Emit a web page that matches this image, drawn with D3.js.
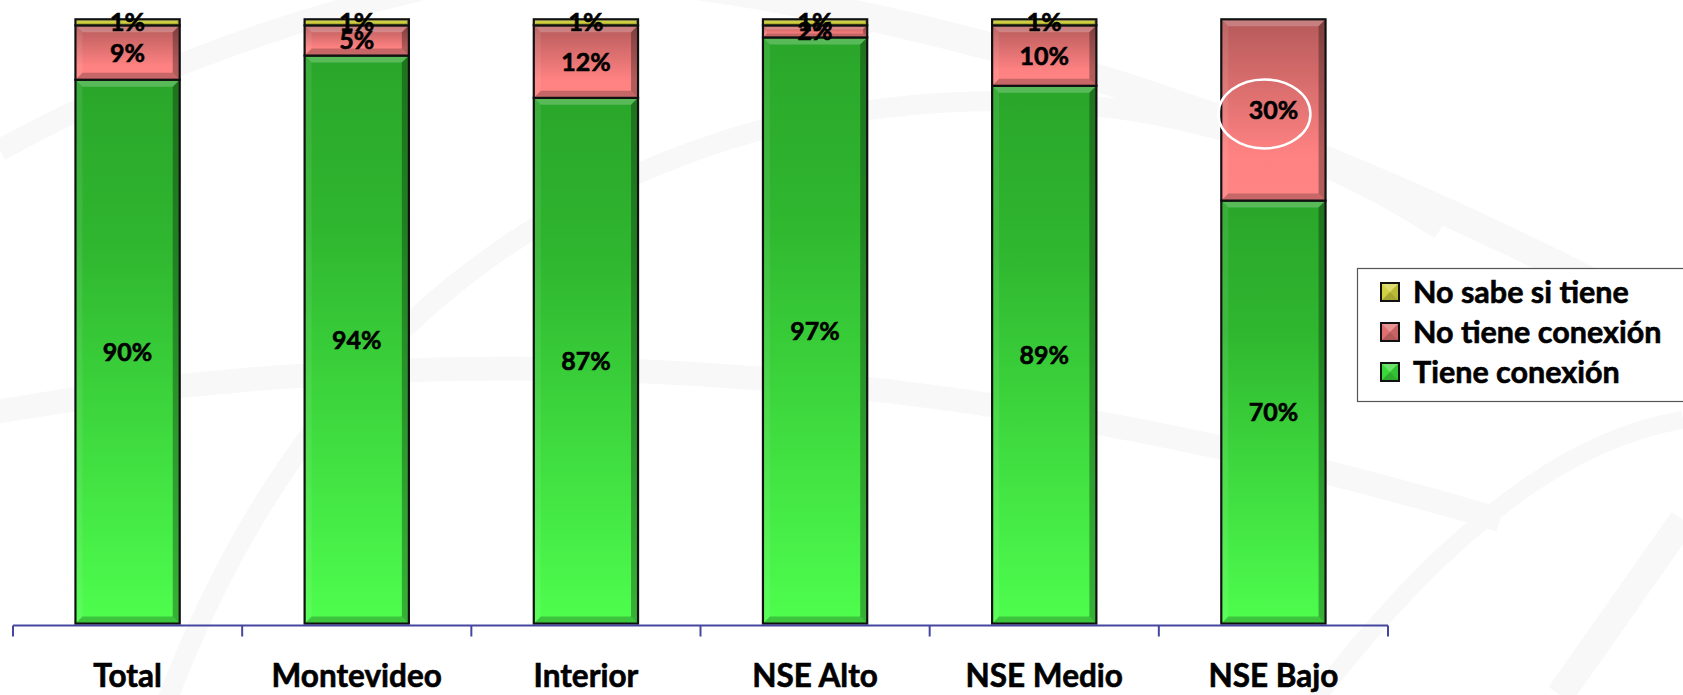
<!DOCTYPE html>
<html>
<head>
<meta charset="utf-8">
<script src="https://cdn.jsdelivr.net/npm/d3@7"></script>
<style>
html,body{margin:0;padding:0;background:#fff;overflow:hidden}
svg{display:block}
</style>
</head>
<body>
<svg id="chart" width="1683" height="695"></svg>
<script>
// ---- data ----
const categories = ["Total","Montevideo","Interior","NSE Alto","NSE Medio","NSE Bajo"];
const tieneConexion   = [90, 94, 87, 97, 89, 70];
const noTieneConexion = [9, 5, 12, 2, 10, 30];
const noSabe          = [1, 1, 1, 1, 1, 0];
const seriesNames = ["Tiene conexión","No tiene conexión","No sabe si tiene"];
const legendOrder = ["No sabe si tiene","No tiene conexión","Tiene conexión"];
const highlighted = {category:"NSE Bajo", series:"No tiene conexión"};

const W = 1683, H = 695;
const svg = d3.select("#chart");
const FONT = "Lato, 'Open Sans', sans-serif";

// ---- background watermark swooshes (very faint) ----
const bg = svg.append("g").attr("fill","none").attr("stroke","#f8f8f8");
bg.append("path").attr("d","M -50 420 Q 700 280 1500 520").attr("stroke-width",24);
bg.append("path").attr("d","M 160 720 Q 330 250 760 130 Q 1150 40 1440 230").attr("stroke-width",20);
bg.append("path").attr("d","M 650 -20 Q 1150 40 1683 330").attr("stroke-width",28);
bg.append("path").attr("d","M 1300 720 Q 1500 450 1683 420").attr("stroke-width",18);
bg.append("path").attr("d","M 0 150 Q 200 40 420 -10").attr("stroke-width",22);
bg.append("path").attr("d","M 1560 695 L 1683 520").attr("stroke-width",28);

// ---- scales ----
const x = d3.scaleBand().domain(categories).range([13, 1388]).paddingInner(0.545).paddingOuter(0.2725);
const y = d3.scaleLinear().domain([0, 100]).range([623.6, 19.3]);

const rows = categories.map((c,i)=>({
  cat:c,
  "Tiene conexión":tieneConexion[i],
  "No tiene conexión":noTieneConexion[i],
  "No sabe si tiene":noSabe[i]
}));
const stack = d3.stack().keys(seriesNames)(rows);

// ---- gradients ----
const defs = svg.append("defs");
const grads = {
  "Tiene conexión":[[0,"#2aa62a"],[0.3,"#2fb62f"],[1,"#4efe4e"]],
  "No tiene conexión":[[0,"#b65a5a"],[0.75,"#ff8282"],[1,"#ff8484"]],
  "No sabe si tiene":[[0,"#c4c43a"],[1,"#d8d840"]]
};
const gid = {};
seriesNames.forEach((s,i)=>{
  const id = "g"+i; gid[s]=id;
  const g = defs.append("linearGradient").attr("id",id).attr("x1",0).attr("y1",0).attr("x2",0).attr("y2",1);
  grads[s].forEach(([o,c])=>g.append("stop").attr("offset",o).attr("stop-color",c));
});
const legFill = {"Tiene conexión":"#3ad83a","No tiene conexión":"#e07070","No sabe si tiene":"#d0d040"};

// ---- bars ----
const barsG = svg.append("g");
stack.forEach(layer=>{
  const key = layer.key;
  layer.forEach(d=>{
    const v = d[1]-d[0];
    if (v<=0) return;
    const x0 = x(d.data.cat), bw = x.bandwidth();
    const y0 = y(d[1]), y1 = y(d[0]), h = y1-y0;
    const g = barsG.append("g");
    g.append("rect").attr("x",x0).attr("y",y0).attr("width",bw).attr("height",h)
      .attr("fill","url(#"+gid[key]+")");
    const b = Math.min(7, h/3);
    const x1 = x0+bw;
    g.append("polygon").attr("points",[[x0,y0],[x1,y0],[x1-b,y0+b],[x0+b,y0+b]].join(" "))
      .attr("fill","#fff").attr("opacity",0.22);
    g.append("polygon").attr("points",[[x0,y1],[x1,y1],[x1-b,y1-b],[x0+b,y1-b]].join(" "))
      .attr("fill","#000").attr("opacity",0.22);
    g.append("polygon").attr("points",[[x0,y0],[x0+b,y0+b],[x0+b,y1-b],[x0,y1]].join(" "))
      .attr("fill","#fff").attr("opacity",0.08);
    g.append("polygon").attr("points",[[x1,y0],[x1-b,y0+b],[x1-b,y1-b],[x1,y1]].join(" "))
      .attr("fill","#000").attr("opacity",0.3);
    g.append("rect").attr("x",x0).attr("y",y0).attr("width",bw).attr("height",h)
      .attr("fill","none").attr("stroke","#111").attr("stroke-width",2.2);
  });
});

// ---- axis ----
const axisG = svg.append("g").attr("stroke","#4646a0").attr("stroke-width",2);
const r = x.range();
axisG.append("line").attr("x1",r[0]).attr("x2",r[1]).attr("y1",625.5).attr("y2",625.5);
const tickPos = d3.range(categories.length+1).map(i=>r[0]+i*x.step());
axisG.selectAll("line.tk").data(tickPos).join("line").attr("class","tk")
  .attr("x1",d=>d).attr("x2",d=>d).attr("y1",625.5).attr("y2",636.5);

svg.append("g").selectAll("text").data(categories).join("text")
  .attr("x",d=>x(d)+x.bandwidth()/2).attr("y",687)
  .attr("text-anchor","middle").attr("font-family",FONT).attr("font-weight","bold")
  .attr("font-size",31.5).attr("fill","#000").attr("stroke","#000").attr("stroke-width",0.6)
  .text(d=>d);

// ---- value labels ----
const labG = svg.append("g");
stack.forEach(layer=>{
  layer.forEach(d=>{
    const v = d[1]-d[0];
    if (v<=0) return;
    labG.append("text")
      .attr("x",x(d.data.cat)+x.bandwidth()/2)
      .attr("y",(y(d[0])+y(d[1]))/2)
      .attr("dy","0.36em")
      .attr("text-anchor","middle").attr("font-family",FONT).attr("font-weight","bold")
      .attr("font-size",25).attr("fill","#000").attr("stroke","#000").attr("stroke-width",0.6)
      .text(v+"%");
  });
});

// highlight ellipse
const hiLayer = stack.find(l=>l.key===highlighted.series);
const hd = hiLayer.find(d=>d.data.cat===highlighted.category);
svg.append("ellipse")
  .attr("cx",x(highlighted.category)+x.bandwidth()/2-9)
  .attr("cy",(y(hd[0])+y(hd[1]))/2+4)
  .attr("rx",46).attr("ry",34.5)
  .attr("fill","none").attr("stroke","#fff").attr("stroke-width",2.5);

// ---- legend ----
const lg = svg.append("g");
lg.append("rect").attr("x",1357.5).attr("y",268.5).attr("width",340).attr("height",133)
  .attr("fill","#fff").attr("stroke","#555").attr("stroke-width",1.2);
legendOrder.forEach((name,i)=>{
  const cy = 292 + i*40, s = 18, lx = 1381, ly = cy - s/2;
  const g = lg.append("g");
  g.append("rect").attr("x",lx).attr("y",ly).attr("width",s).attr("height",s).attr("fill",legFill[name]);
  const c = [lx+s/2, ly+s/2];
  g.append("polygon").attr("points",[[lx,ly],[lx+s,ly],c].join(" ")).attr("fill","#fff").attr("opacity",0.25);
  g.append("polygon").attr("points",[[lx,ly+s],[lx+s,ly+s],c].join(" ")).attr("fill","#000").attr("opacity",0.2);
  g.append("polygon").attr("points",[[lx+s,ly],[lx+s,ly+s],c].join(" ")).attr("fill","#000").attr("opacity",0.1);
  g.append("rect").attr("x",lx).attr("y",ly).attr("width",s).attr("height",s)
    .attr("fill","none").attr("stroke","#111").attr("stroke-width",2);
  g.append("text").attr("x",1413).attr("y",cy).attr("dy","0.36em")
    .attr("font-family",FONT).attr("font-weight","bold").attr("font-size",30.5)
    .attr("fill","#000").attr("stroke","#000").attr("stroke-width",0.6).text(name);
});
</script>
</body>
</html>
